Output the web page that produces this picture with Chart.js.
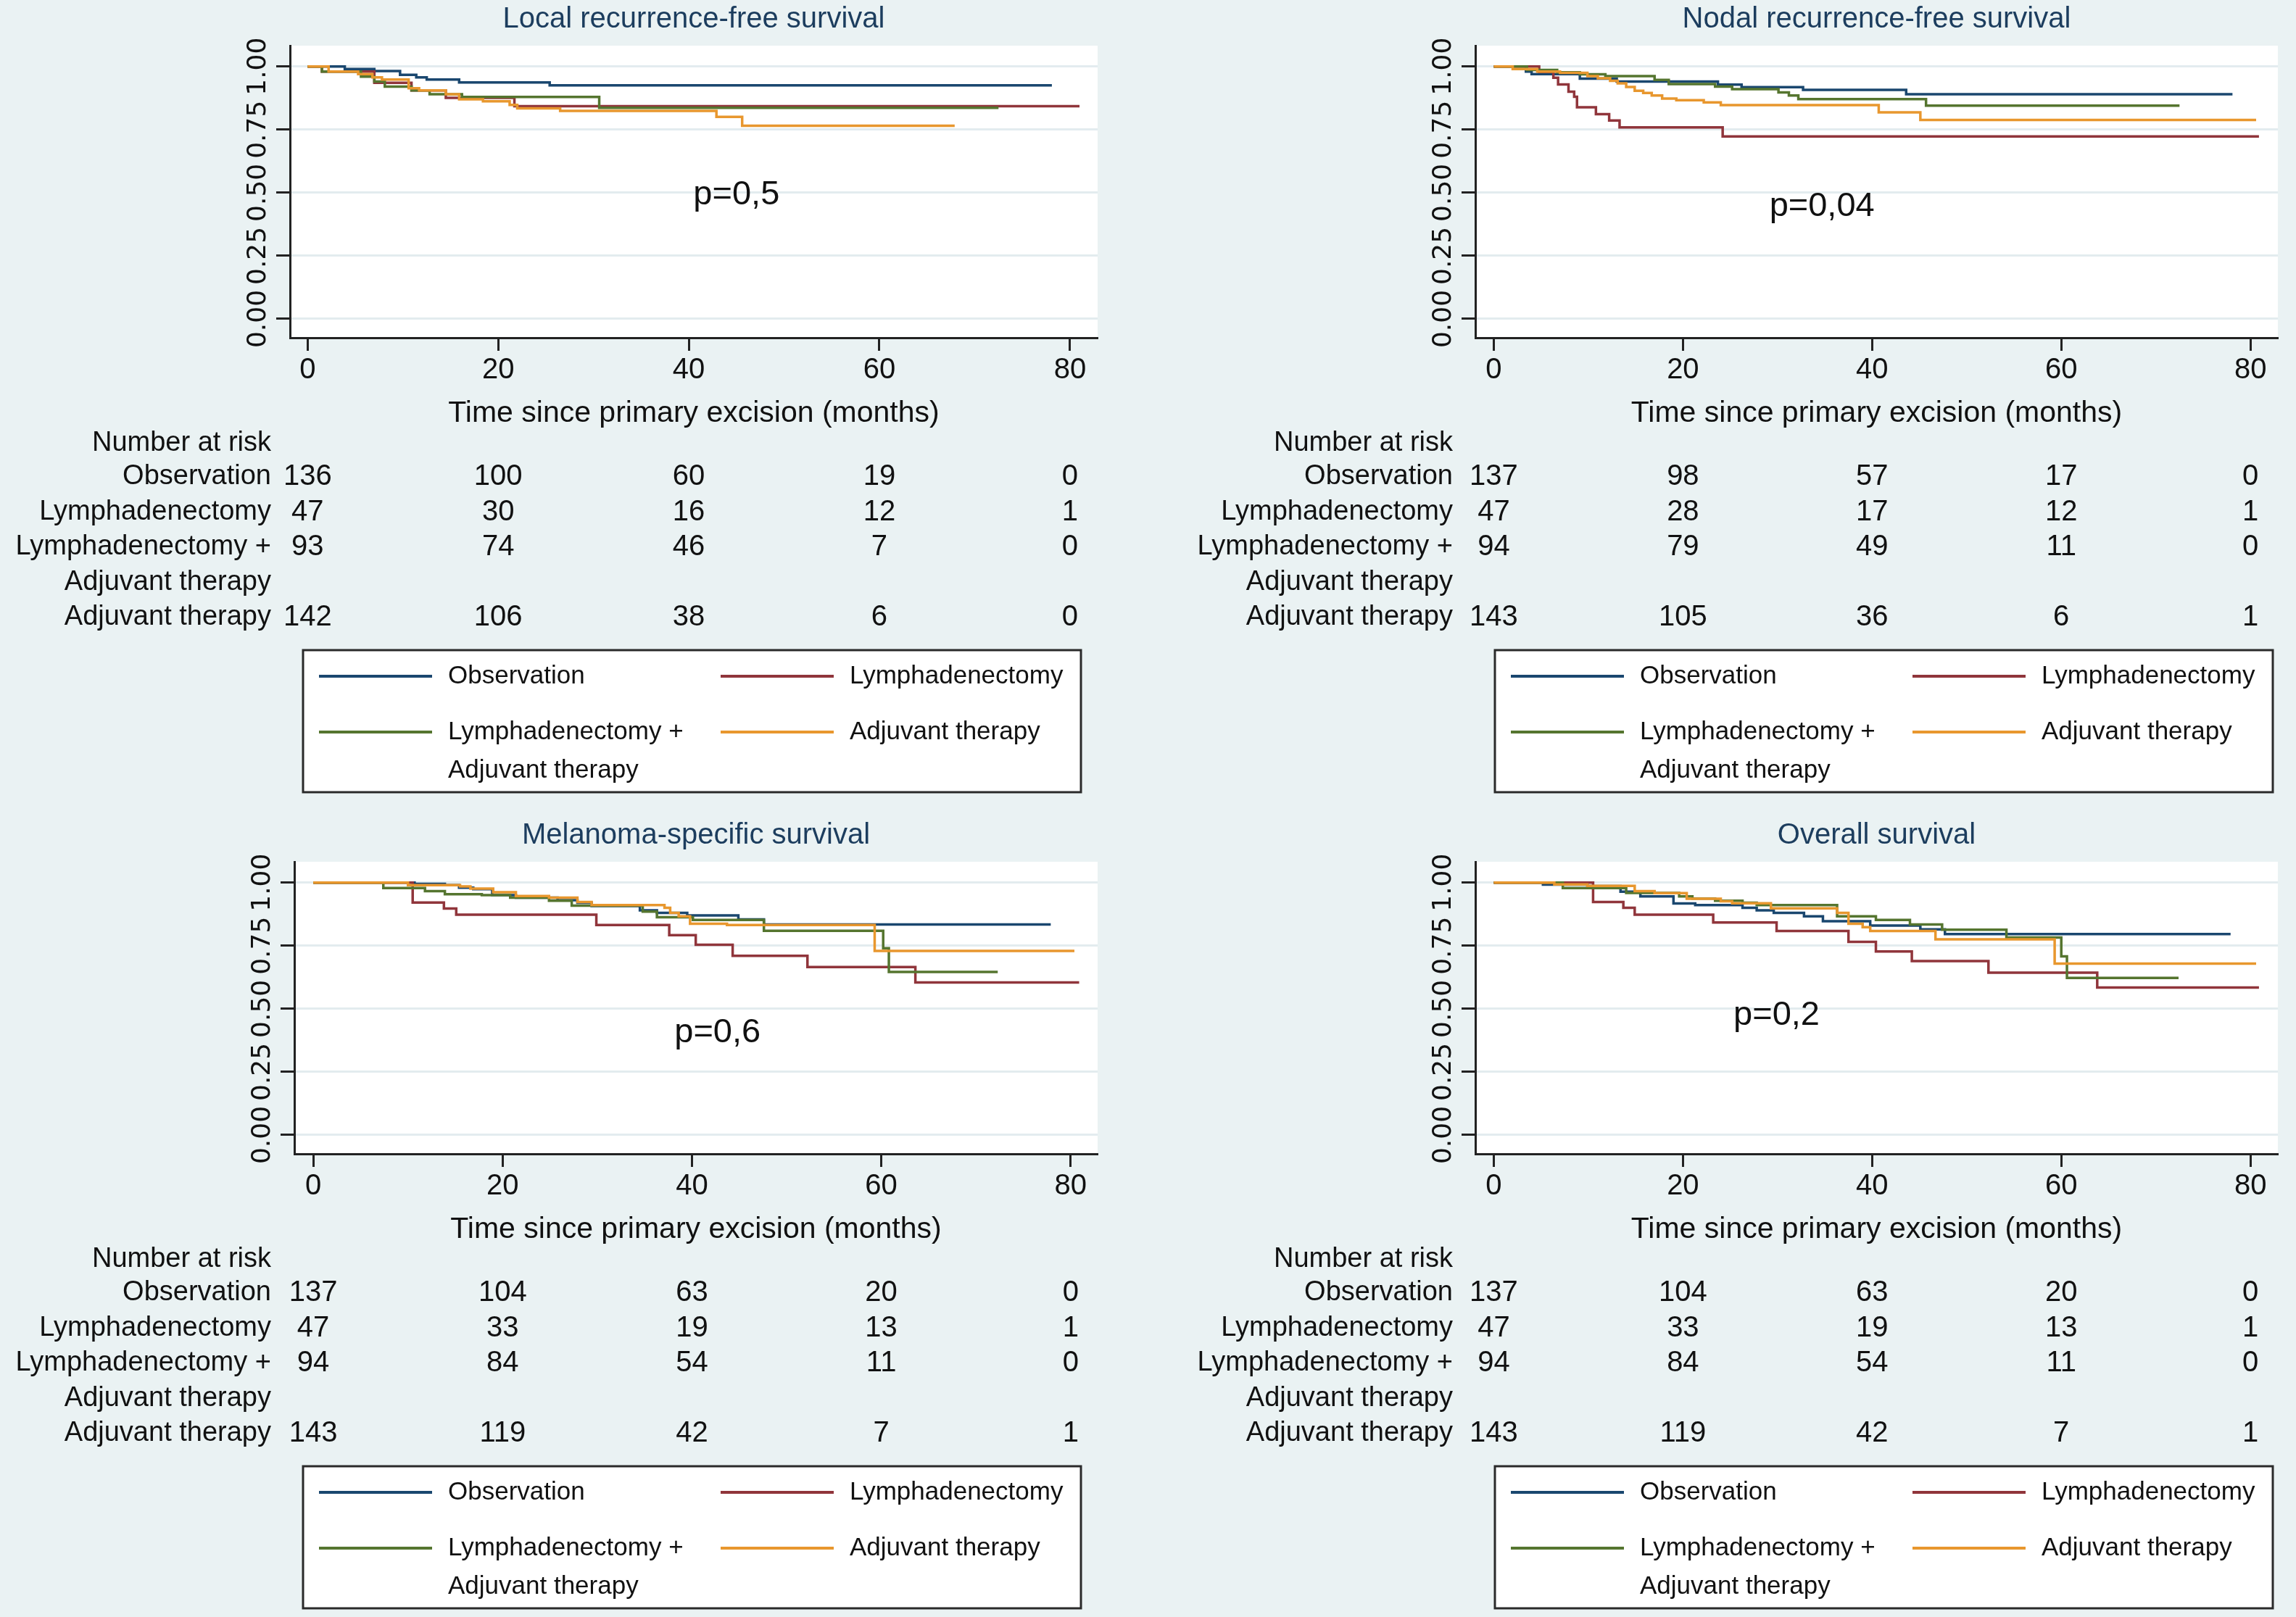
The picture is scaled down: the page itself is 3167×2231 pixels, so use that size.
<!DOCTYPE html>
<html>
<head>
<meta charset="utf-8">
<script src="https://cdn.jsdelivr.net/npm/chart.js@4.4.1/dist/chart.umd.min.js"></script>
<style>
  html, body { margin: 0; padding: 0; background: #eaf2f3; }
  body { width: 3167px; height: 2231px; position: relative; overflow: hidden; }
  canvas { position: absolute; }
</style>
</head>
<body>
<canvas id="graficoLocal"></canvas>
<canvas id="graficoNodal"></canvas>
<canvas id="graficoMelanoma"></canvas>
<canvas id="graficoGlobal"></canvas>
<script>
// grupos e eixos
const grupos = ['Observation', 'Lymphadenectomy', 'Lymphadenectomy +', 'Adjuvant therapy'];
const ticksX = [0, 20, 40, 60, 80];
const ticksY = [0, 0.25, 0.5, 0.75, 1];
const temposRisco = [0, 20, 40, 60, 80];

// Local recurrence-free survival  [mes, sobrevida]
const localObs = [[0,1],[3.9,0.99],[7,0.982],[9.7,0.967],[11.4,0.957],[12.5,0.948],[15.9,0.937],[25.4,0.925],[78.1,0.925]];
const localLinf = [[0,1],[1.5,0.98],[7,0.935],[10.9,0.905],[14.5,0.876],[21.7,0.843],[81,0.843]];
const localLinfAdj = [[0,1],[1.5,0.98],[5.6,0.96],[7,0.94],[8.1,0.92],[10.9,0.905],[12.8,0.89],[16.2,0.879],[30.6,0.836],[72.5,0.836]];
const localAdj = [[0,1],[2.2,0.98],[5.3,0.97],[6.8,0.957],[7.8,0.948],[10.6,0.914],[11.7,0.905],[14.5,0.89],[15.9,0.87],[18.4,0.862],[21.2,0.848],[22,0.834],[26.5,0.824],[42.9,0.8],[45.6,0.765],[67.9,0.765]];

// Nodal recurrence-free survival
const nodalObs = [[0,1],[3.4,0.98],[4,0.97],[9.1,0.952],[13,0.94],[23.7,0.928],[26.2,0.918],[32.7,0.907],[43.6,0.89],[78.1,0.89]];
const nodalLinf = [[0,1],[4.8,0.978],[6.3,0.955],[6.8,0.929],[7.9,0.9],[8.5,0.88],[8.8,0.838],[10.8,0.811],[12.2,0.786],[13.3,0.759],[24.2,0.723],[80.9,0.723]];
const nodalLinfAdj = [[0,1],[3.5,0.986],[6.7,0.977],[9.1,0.969],[11.8,0.962],[17,0.947],[18.5,0.93],[23.4,0.92],[25.2,0.91],[30.1,0.897],[31.2,0.885],[32.2,0.871],[45.7,0.845],[72.5,0.845]];
const nodalAdj = [[0,1],[2,0.99],[4.6,0.98],[7,0.975],[9.9,0.962],[11,0.953],[12.3,0.943],[13.1,0.933],[14,0.919],[14.9,0.904],[15.8,0.895],[16.7,0.885],[17.8,0.873],[19.3,0.866],[22.2,0.858],[24,0.847],[40.7,0.818],[45.1,0.788],[80.6,0.788]];

// Melanoma-specific survival
const melObs = [[0,1],[10.7,0.995],[13.9,0.99],[15.4,0.98],[16.9,0.974],[18.9,0.95],[21.4,0.94],[25.8,0.93],[27.9,0.92],[29.4,0.907],[34.5,0.89],[36.3,0.88],[39.5,0.87],[44.9,0.854],[47.6,0.834],[77.9,0.834]];
const melLinf = [[0,1],[10.5,0.921],[13.8,0.897],[15.1,0.873],[29.9,0.832],[37.6,0.792],[40.4,0.754],[44.3,0.71],[52.2,0.665],[63.6,0.604],[80.9,0.604]];
const melLinfAdj = [[0,1],[7.4,0.978],[11.8,0.966],[13.9,0.954],[17.8,0.95],[20.8,0.94],[24.9,0.928],[27.3,0.909],[34.8,0.885],[36.3,0.863],[40.1,0.852],[47.6,0.809],[60.2,0.74],[60.8,0.646],[72.3,0.646]];
const melAdj = [[0,1],[10,0.99],[15.5,0.985],[16.6,0.976],[19,0.962],[21.4,0.947],[24.9,0.94],[27.9,0.923],[29.4,0.911],[37.1,0.9],[37.7,0.88],[38.6,0.866],[39.8,0.837],[43.7,0.832],[59.3,0.729],[80.4,0.729]];

// Overall survival
const globalObs = [[0,1],[5.2,0.992],[9.9,0.986],[13.4,0.964],[15.5,0.945],[19,0.917],[21.3,0.911],[26.3,0.9],[27.8,0.89],[29.6,0.88],[32.8,0.866],[34.8,0.847],[39.8,0.83],[45.1,0.815],[47.7,0.796],[77.9,0.796]];
const globalLinf = [[0,1],[10.5,0.923],[13.7,0.9],[14.9,0.873],[23.2,0.842],[29.9,0.808],[37.5,0.765],[40.4,0.727],[44.2,0.689],[52.3,0.643],[63.8,0.584],[80.9,0.584]];
const globalLinfAdj = [[0,1],[7.3,0.978],[14,0.959],[19.6,0.945],[21,0.937],[23.4,0.928],[26.3,0.92],[27.8,0.911],[36.3,0.866],[40.4,0.852],[44,0.834],[47.4,0.813],[54.2,0.782],[60,0.708],[60.6,0.622],[72.4,0.622]];
const globalAdj = [[0,1],[6.4,0.993],[9.9,0.987],[14.9,0.966],[17,0.958],[20.4,0.936],[24,0.926],[25.2,0.918],[29.3,0.898],[36.3,0.88],[37.5,0.837],[39,0.823],[39.8,0.808],[46.7,0.775],[59.3,0.679],[80.6,0.679]];

// Number at risk
const riscoLocal = [[136, 100, 60, 19, 0], [47, 30, 16, 12, 1], [93, 74, 46, 7, 0], [142, 106, 38, 6, 0]];
const riscoNodal = [[137, 98, 57, 17, 0], [47, 28, 17, 12, 1], [94, 79, 49, 11, 0], [143, 105, 36, 6, 1]];
const riscoMel = [[137, 104, 63, 20, 0], [47, 33, 19, 13, 1], [94, 84, 54, 11, 0], [143, 119, 42, 7, 1]];
const riscoGlobal = [[137, 104, 63, 20, 0], [47, 33, 19, 13, 1], [94, 84, 54, 11, 0], [143, 119, 42, 7, 1]];

const cores = ['#1a476f', '#90353b', '#55752f', '#e8972e'];
const fonte = '"Liberation Sans", Arial, sans-serif';
const corTexto = '#111';

Chart.defaults.font.family = fonte;

const decoracao = {
  id: 'decoracao',
  beforeDraw(chart) {
    const { ctx, chartArea: a } = chart;
    ctx.save();
    ctx.fillStyle = '#eaf2f3';
    ctx.fillRect(0, 0, chart.width, chart.height);
    ctx.fillStyle = '#ffffff';
    ctx.fillRect(a.left, a.top, a.right - a.left, a.bottom - a.top);
    ctx.restore();
  },
  afterDraw(chart, args, o) {
    const { ctx, chartArea: a } = chart;
    const x = chart.scales.x, y = chart.scales.y;
    const base = a.bottom;
    ctx.save();
    ctx.fillStyle = corTexto;

    // rotulos do eixo y, rodados como no Stata
    ctx.font = '36px "DejaVu Sans", sans-serif';
    ctx.textAlign = 'center';
    ctx.textBaseline = 'middle';
    y.ticks.forEach(t => {
      ctx.save();
      ctx.translate(a.left - 43, y.getPixelForValue(t.value));
      ctx.rotate(-Math.PI / 2);
      ctx.fillText(t.value.toFixed(2), 0, 0);
      ctx.restore();
    });

    // p valor
    ctx.font = '47px ' + fonte;
    ctx.fillText(o.p, x.getPixelForValue(o.px), y.getPixelForValue(o.py));

    // titulo do eixo x
    ctx.font = '41px ' + fonte;
    ctx.fillText('Time since primary excision (months)', (a.left + a.right) / 2, base + 105);

    // tabela number at risk
    ctx.font = '38px ' + fonte;
    ctx.textAlign = 'right';
    ctx.fillText('Number at risk', o.rotuloDir, base + 146);
    const linhas = [base + 192, base + 241, base + 289, base + 386];
    grupos.forEach((g, i) => ctx.fillText(g, o.rotuloDir, linhas[i]));
    ctx.fillText('Adjuvant therapy', o.rotuloDir, base + 338);
    ctx.font = '40px ' + fonte;
    ctx.textAlign = 'center';
    o.risco.forEach((linha, i) => {
      linha.forEach((n, j) => ctx.fillText(String(n), x.getPixelForValue(temposRisco[j]), linhas[i]));
    });

    // legenda
    const lx = o.legenda, ly = base + 431;
    ctx.fillStyle = '#ffffff';
    ctx.fillRect(lx, ly, 1073, 196);
    ctx.strokeStyle = '#2a2a2a';
    ctx.lineWidth = 3;
    ctx.strokeRect(lx, ly, 1073, 196);
    const itens = [
      { c: 0, col: 0, row: 36 }, { c: 1, col: 1, row: 36 },
      { c: 2, col: 0, row: 113 }, { c: 3, col: 1, row: 113 }
    ];
    ctx.font = '35px ' + fonte;
    ctx.textAlign = 'left';
    itens.forEach(it => {
      const x0 = lx + (it.col ? 576 : 22);
      const yy = ly + it.row;
      ctx.strokeStyle = cores[it.c];
      ctx.lineWidth = 4;
      ctx.beginPath();
      ctx.moveTo(x0, yy);
      ctx.lineTo(x0 + 156, yy);
      ctx.stroke();
      ctx.fillStyle = corTexto;
      ctx.fillText(grupos[it.c], x0 + 178, yy);
    });
    ctx.fillText('Adjuvant therapy', lx + 200, ly + 166);
    ctx.restore();
  }
};

function criaGrafico(id, p) {
  const canvas = document.getElementById(id);
  canvas.width = p.w;
  canvas.height = p.h;
  canvas.style.left = p.left + 'px';
  canvas.style.top = p.top + 'px';
  canvas.style.width = p.w + 'px';
  canvas.style.height = p.h + 'px';

  return new Chart(canvas, {
    type: 'line',
    data: {
      datasets: p.curvas.map((c, i) => ({
        label: grupos[i],
        data: c,
        borderColor: cores[i],
        borderWidth: 3.5,
        pointRadius: 0,
        stepped: 'before',
        order: 3 - i
      }))
    },
    options: {
      responsive: false,
      animation: false,
      devicePixelRatio: 1,
      events: [],
      layout: { padding: { left: p.areaLeft - 100, right: p.w - p.areaRight, top: 0, bottom: 0 } },
      scales: {
        x: {
          type: 'linear',
          min: p.xmin,
          max: p.xmax,
          afterBuildTicks: s => { s.ticks = ticksX.map(v => ({ value: v })); },
          afterFit: s => { s.height = p.h - 466; },
          grid: { drawOnChartArea: false, drawTicks: true, tickLength: 18, tickWidth: 3, tickColor: '#222' },
          border: { display: true, color: '#222', width: 3 },
          ticks: { color: corTexto, font: { size: 40 }, padding: 3, maxRotation: 0 }
        },
        y: {
          type: 'linear',
          min: -0.0747,
          max: 1.0824,
          afterBuildTicks: s => { s.ticks = ticksY.map(v => ({ value: v })); },
          afterFit: s => { s.width = 100; },
          grid: { color: '#e3ecef', lineWidth: 3, drawTicks: true, tickLength: 19, tickWidth: 3, tickColor: '#222' },
          border: { display: true, color: '#222', width: 3 },
          ticks: { display: false }
        }
      },
      plugins: {
        legend: { display: false },
        tooltip: { enabled: false },
        title: {
          display: true,
          text: p.titulo,
          fullSize: false,
          color: '#1c3d5e',
          font: { size: 40, weight: 'normal' },
          padding: { top: 3, bottom: 12 }
        },
        decoracao: p
      }
    },
    plugins: [decoracao]
  });
}

criaGrafico('graficoLocal', {
  titulo: 'Local recurrence-free survival', curvas: [localObs, localLinf, localLinfAdj, localAdj],
  risco: riscoLocal, p: 'p=0,5', px: 45, py: 0.49,
  left: 0, top: 0, w: 1583, h: 1115, areaLeft: 400, areaRight: 1514, xmin: -1.85, xmax: 82.9,
  rotuloDir: 374, legenda: 418
});
criaGrafico('graficoNodal', {
  titulo: 'Nodal recurrence-free survival', curvas: [nodalObs, nodalLinf, nodalLinfAdj, nodalAdj],
  risco: riscoNodal, p: 'p=0,04', px: 34.7, py: 0.445,
  left: 1583, top: 0, w: 1584, h: 1115, areaLeft: 452, areaRight: 1559, xmin: -1.95, xmax: 82.9,
  rotuloDir: 421, legenda: 479
});
criaGrafico('graficoMelanoma', {
  titulo: 'Melanoma-specific survival', curvas: [melObs, melLinf, melLinfAdj, melAdj],
  risco: riscoMel, p: 'p=0,6', px: 42.7, py: 0.405,
  left: 0, top: 1126, w: 1583, h: 1105, areaLeft: 406, areaRight: 1514, xmin: -2.0, xmax: 82.85,
  rotuloDir: 374, legenda: 418
});
criaGrafico('graficoGlobal', {
  titulo: 'Overall survival', curvas: [globalObs, globalLinf, globalLinfAdj, globalAdj],
  risco: riscoGlobal, p: 'p=0,2', px: 29.9, py: 0.475,
  left: 1583, top: 1126, w: 1584, h: 1105, areaLeft: 452, areaRight: 1559, xmin: -1.95, xmax: 82.9,
  rotuloDir: 421, legenda: 479
});
</script>
</body>
</html>
